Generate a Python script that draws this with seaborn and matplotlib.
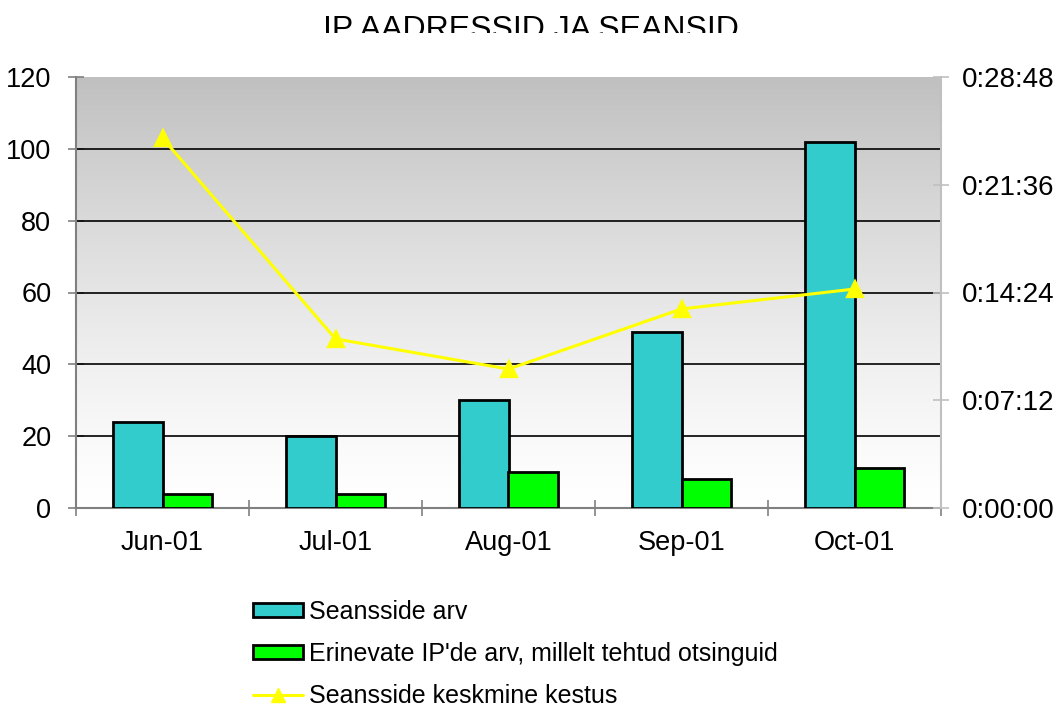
import numpy as np
import pandas as pd
import matplotlib
matplotlib.use("Agg")
import matplotlib.pyplot as plt
from matplotlib.patches import Patch
from matplotlib.lines import Line2D
from matplotlib.transforms import Bbox
from matplotlib.ticker import FuncFormatter
import seaborn as sns

# ---- data ----
months = ["Jun-01", "Jul-01", "Aug-01", "Sep-01", "Oct-01"]
sessions = [24, 20, 30, 49, 102]
unique_ips = [4, 4, 10, 8, 11]
avg_duration = ["0:24:43", "0:11:18", "0:09:17", "0:13:18", "0:14:38"]
left_ticks = [0, 20, 40, 60, 80, 100, 120]
right_ticks = ["0:00:00", "0:07:12", "0:14:24", "0:21:36", "0:28:48"]
series_names = ["Seansside arv", "Erinevate IP'de arv, millelt tehtud otsinguid",
                "Seansside keskmine kestus"]
title = "IP AADRESSID JA SEANSID"


def to_sec(s):
    h, m, sec = (int(v) for v in s.split(":"))
    return h * 3600 + m * 60 + sec


def fmt_sec(v, pos=None):
    v = int(round(v))
    return f"{v // 3600}:{(v % 3600) // 60:02d}:{v % 60:02d}"


dur_sec = [to_sec(s) for s in avg_duration]
rt_sec = [to_sec(s) for s in right_ticks]

df = pd.DataFrame({
    "month": months * 2,
    "value": sessions + unique_ips,
    "series": [series_names[0]] * 5 + [series_names[1]] * 5,
})

sns.set_theme(style="white")
plt.rcParams["font.family"] = ["Liberation Sans", "DejaVu Sans"]
plt.rcParams["text.color"] = "black"

W, H = 1056, 708
fig = plt.figure(figsize=(W / 100, H / 100), dpi=100)
ax = fig.add_axes([76 / W, 1 - 508 / H, (941 - 76) / W, (508 - 77) / H])

cyan = "#33CCCC"
green = "#00FF00"
yellow = "#FFFF00"

sns.barplot(data=df, x="month", y="value", hue="series", order=months,
            hue_order=series_names[:2], palette=[cyan, green], width=0.578,
            saturation=1, edgecolor="black", linewidth=2, legend=False,
            ax=ax, zorder=3)

# gradient background
grad = np.linspace(1, 0, 256).reshape(-1, 1) ** 1.3
ax.imshow(grad, extent=[0, 1, 0, 1], transform=ax.transAxes, aspect="auto",
          cmap=matplotlib.colors.LinearSegmentedColormap.from_list(
              "g", ["#FFFFFF", "#C0C0C0"]), zorder=0, interpolation="bicubic")

ax.set_xlim(-0.5, len(months) - 0.5)
ax.set_ylim(left_ticks[0], left_ticks[-1])
ax.set_yticks(left_ticks)
for t in left_ticks[1:-1]:
    ax.axhline(t, color="black", lw=1.2, zorder=1)

ax.set_xticks(np.arange(len(months) + 1) - 0.5)
ax.set_xticklabels([])
ax.set_xticks(np.arange(len(months)), minor=True)
ax.set_xticklabels(months, minor=True)
ax.tick_params(axis="x", which="major", direction="inout", length=11.5,
               color="#808080", width=1.2, bottom=True)
ax.tick_params(axis="x", which="minor", length=0, pad=15.5, labelsize=19.5,
               labelcolor="black", bottom=True)
ax.tick_params(axis="y", direction="inout", length=11.5, color="#808080",
               width=1.2, left=True, pad=12, labelsize=19.5, labelcolor="black")
ax.set_xlabel("")
ax.set_ylabel("")
for side in ["top", "right"]:
    ax.spines[side].set_visible(False)
for side in ["left", "bottom"]:
    ax.spines[side].set_color("#808080")
    ax.spines[side].set_linewidth(1.5)
ax.grid(False)

# secondary axis with line
ax2 = ax.twinx()
sns.pointplot(x=months, y=dur_sec, order=months, ax=ax2, color=yellow,
              markers="^", linestyles="-", markersize=11, linewidth=2.2,
              errorbar=None, zorder=5)
ax2.set_ylim(rt_sec[0], rt_sec[-1])
ax2.set_yticks(rt_sec)
ax2.yaxis.set_major_formatter(FuncFormatter(fmt_sec))
ax2.tick_params(axis="y", direction="inout", length=11.5, color="#C0C0C0",
                width=1.2, right=True, pad=9, labelsize=20, labelcolor="black")
ax2.set_ylabel("")
ax2.set_xlabel("")
ax2.grid(False)
for side in ["top", "left", "bottom"]:
    ax2.spines[side].set_visible(False)
ax2.spines["right"].set_color("#C0C0C0")
ax2.spines["right"].set_linewidth(1.5)
ax2.set_xlim(-0.5, len(months) - 0.5)

# title (clipped at bottom as in reference)
t = fig.text(531 / W, 1 - 38 / H, title, ha="center", va="baseline",
             fontsize=23, color="black")
t.set_clip_on(True)
t.set_clip_box(Bbox([[0, H - 33], [W, H]]))

# legend
handles = [
    Patch(facecolor=cyan, edgecolor="black", linewidth=2),
    Patch(facecolor=green, edgecolor="black", linewidth=2),
    Line2D([], [], color=yellow, lw=2.2, marker="^", markersize=10),
]
leg = fig.legend(handles, series_names, loc="upper left",
                 bbox_to_anchor=(253 / W, 1 - 600 / H), frameon=False,
                 fontsize=18, borderpad=0, borderaxespad=0, handlelength=2.0,
                 handleheight=0.5, handletextpad=0.25, labelspacing=0.72)
for txt in leg.get_texts():
    txt.set_color("black")

fig.savefig("out.png", dpi=100)
